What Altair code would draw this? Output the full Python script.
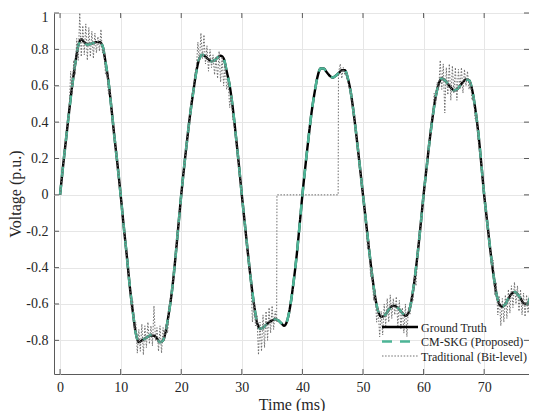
import altair as alt
import pandas as pd

# ---------------- data ----------------
series_names = ["Ground Truth", "CM-SKG (Proposed)", "Traditional (Bit-level)"]

# sampling instants for the smooth curves (0 ... 79 ms, every 0.5 ms)
t_grid = [i * 0.5 for i in range(159)]

ground_truth = [
    0.0, 0.16, 0.31, 0.46, 0.60, 0.72, 0.82, 0.855, 0.84, 0.83, 0.83, 0.835, 0.84, 0.84, 0.82, 0.73, 0.62, 0.47, 0.31, 0.16,
    0.0, -0.17, -0.33, -0.50, -0.64, -0.76, -0.81, -0.80, -0.79, -0.78, -0.775, -0.775, -0.79, -0.81, -0.80, -0.74, -0.64, -0.52, -0.36, -0.18,
    0.0, 0.16, 0.31, 0.45, 0.57, 0.68, 0.75, 0.77, 0.76, 0.745, 0.735, 0.74, 0.755, 0.765, 0.75, 0.68, 0.60, 0.48, 0.33, 0.17,
    0.0, -0.16, -0.32, -0.47, -0.60, -0.70, -0.735, -0.73, -0.715, -0.70, -0.69, -0.685, -0.69, -0.705, -0.72, -0.69, -0.61, -0.49, -0.35, -0.18,
    0.0, 0.16, 0.31, 0.45, 0.56, 0.65, 0.695, 0.695, 0.675, 0.655, 0.645, 0.655, 0.67, 0.685, 0.685, 0.64, 0.56, 0.44, 0.30, 0.15,
    0.0, -0.15, -0.30, -0.44, -0.56, -0.64, -0.67, -0.665, -0.645, -0.62, -0.61, -0.615, -0.63, -0.65, -0.665, -0.65, -0.58, -0.47, -0.33, -0.17,
    0.0, 0.15, 0.30, 0.43, 0.54, 0.61, 0.64, 0.63, 0.61, 0.59, 0.575, 0.58, 0.60, 0.62, 0.635, 0.63, 0.58, 0.48, 0.35, 0.18,
    0.0, -0.15, -0.30, -0.43, -0.54, -0.60, -0.615, -0.60, -0.57, -0.545, -0.535, -0.545, -0.57, -0.595, -0.60, -0.575, -0.48, -0.36, -0.21,
]

cm_skg = [
    0.0, 0.16, 0.31, 0.46, 0.60, 0.72, 0.82, 0.85, 0.84, 0.825, 0.83, 0.835, 0.84, 0.84, 0.82, 0.73, 0.62, 0.47, 0.31, 0.16,
    0.0, -0.17, -0.33, -0.50, -0.64, -0.76, -0.81, -0.80, -0.79, -0.78, -0.77, -0.775, -0.79, -0.81, -0.80, -0.74, -0.64, -0.52, -0.36, -0.18,
    0.0, 0.16, 0.31, 0.45, 0.57, 0.68, 0.75, 0.77, 0.76, 0.745, 0.735, 0.74, 0.755, 0.765, 0.75, 0.68, 0.60, 0.48, 0.33, 0.17,
    0.0, -0.16, -0.32, -0.47, -0.60, -0.70, -0.735, -0.73, -0.715, -0.70, -0.69, -0.685, -0.69, -0.705, -0.72, -0.69, -0.61, -0.49, -0.35, -0.18,
    0.0, 0.16, 0.31, 0.45, 0.56, 0.65, 0.695, 0.695, 0.675, 0.655, 0.645, 0.655, 0.67, 0.685, 0.685, 0.64, 0.56, 0.44, 0.30, 0.15,
    0.0, -0.15, -0.30, -0.44, -0.56, -0.64, -0.67, -0.665, -0.645, -0.62, -0.61, -0.615, -0.63, -0.65, -0.665, -0.65, -0.58, -0.47, -0.33, -0.17,
    0.0, 0.15, 0.30, 0.43, 0.54, 0.61, 0.64, 0.63, 0.61, 0.59, 0.575, 0.58, 0.60, 0.62, 0.635, 0.63, 0.58, 0.48, 0.35, 0.18,
    0.0, -0.15, -0.30, -0.43, -0.54, -0.60, -0.615, -0.60, -0.57, -0.545, -0.535, -0.545, -0.57, -0.595, -0.60, -0.575, -0.48, -0.36, -0.21,
]

traditional_t = [
    0.0, 0.5, 1.0, 1.25, 1.5, 1.75, 2.0, 2.25, 2.5, 2.75, 3.0, 3.25, 3.5, 3.75, 4.0, 4.25, 4.5, 4.75, 5.0, 5.25,
    5.5, 5.75, 6.0, 6.25, 6.5, 6.75, 7.0, 7.25, 7.5, 7.75, 8.0, 8.25, 8.5, 9.0, 9.5,
    10.0, 10.5, 11.0, 11.5, 11.75, 12.0, 12.25, 12.5, 12.75, 13.0, 13.25, 13.5, 13.75, 14.0, 14.25, 14.5, 14.75,
    15.0, 15.25, 15.5, 15.75, 16.0, 16.25, 16.5, 16.75, 17.0, 17.25, 17.5, 17.75, 18.0, 18.5, 19.0, 19.5,
    20.0, 20.5, 21.0, 21.5, 21.75, 22.0, 22.25, 22.5, 22.75, 23.0, 23.25, 23.5, 23.75, 24.0, 24.25, 24.5, 24.75,
    25.0, 25.25, 25.5, 25.75, 26.0, 26.25, 26.5, 26.75, 27.0, 27.25, 27.5, 27.75, 28.0, 28.25, 28.5, 29.0, 29.5,
    30.0, 30.5, 31.0, 31.5, 31.75, 32.0, 32.25, 32.5, 32.75, 33.0, 33.25, 33.5, 33.75, 34.0, 34.25, 34.5, 34.75,
    35.0, 35.25, 35.5, 35.75, 35.8, 45.9, 45.95,
    46.25, 46.5, 46.75, 47.0, 47.25, 47.5, 48.0, 48.5, 49.0, 49.5,
    50.0, 50.5, 50.75, 51.0, 51.25, 51.5, 51.75, 52.0, 52.25, 52.5, 52.75, 53.0, 53.25, 53.5, 53.75, 54.0, 54.25,
    54.5, 54.75, 55.0, 55.25, 55.5, 55.75, 56.0, 56.25, 56.5, 56.75, 57.0, 57.25, 57.5, 57.75, 58.0, 58.25, 58.5,
    58.75, 59.0, 59.5,
    60.0, 60.5, 61.0, 61.25, 61.5, 61.75, 62.0, 62.25, 62.5, 62.75, 63.0, 63.25, 63.5, 63.75, 64.0, 64.25, 64.5,
    64.75, 65.0, 65.25, 65.5, 65.75, 66.0, 66.25, 66.5, 66.75, 67.0, 67.25, 67.5, 67.75, 68.0, 68.25, 68.5, 68.75,
    69.0, 69.5,
    70.0, 70.5, 71.0, 71.25, 71.5, 71.75, 72.0, 72.25, 72.5, 72.75, 73.0, 73.25, 73.5, 73.75, 74.0, 74.25, 74.5,
    74.75, 75.0, 75.25, 75.5, 75.75, 76.0, 76.25, 76.5, 76.75, 77.0, 77.25, 77.5, 77.75, 78.0, 78.25, 78.5, 78.75, 79.0,
]

traditional_v = [
    0.0, 0.16, 0.31, 0.40, 0.46, 0.68, 0.55, 0.74, 0.66, 0.86, 0.74, 1.0, 0.76, 0.93, 0.77, 0.94, 0.74, 0.92, 0.76, 0.90,
    0.75, 0.89, 0.78, 0.87, 0.79, 0.91, 0.78, 0.80, 0.66, 0.68, 0.55, 0.58, 0.47, 0.31, 0.16,
    0.0, -0.17, -0.33, -0.50, -0.62, -0.58, -0.74, -0.70, -0.87, -0.74, -0.86, -0.71, -0.88, -0.72, -0.84, -0.70, -0.82,
    -0.72, -0.83, -0.61, -0.80, -0.73, -0.86, -0.72, -0.87, -0.73, -0.80, -0.71, -0.76, -0.62, -0.52, -0.36, -0.18,
    0.0, 0.16, 0.31, 0.45, 0.55, 0.57, 0.66, 0.70, 0.84, 0.73, 0.89, 0.75, 0.88, 0.72, 0.82, 0.68, 0.80,
    0.70, 0.77, 0.66, 0.76, 0.64, 0.79, 0.62, 0.76, 0.60, 0.72, 0.58, 0.62, 0.48, 0.55, 0.42, 0.33, 0.17,
    0.0, -0.16, -0.32, -0.47, -0.70, -0.58, -0.72, -0.66, -0.88, -0.70, -0.86, -0.66, -0.84, -0.64, -0.80, -0.62, -0.76,
    -0.61, -0.74, -0.64, -0.70, 0.0, 0.0, 0.67,
    0.72, 0.64, 0.70, 0.66, 0.67, 0.62, 0.56, 0.44, 0.30, 0.15,
    0.0, -0.15, -0.30, -0.25, -0.45, -0.40, -0.58, -0.52, -0.70, -0.62, -0.78, -0.64, -0.77, -0.60, -0.72, -0.57, -0.70,
    -0.55, -0.68, -0.57, -0.66, -0.56, -0.72, -0.58, -0.74, -0.62, -0.76, -0.60, -0.78, -0.62, -0.66, -0.55, -0.58, -0.44,
    -0.50, -0.33, -0.17,
    0.0, 0.15, 0.30, 0.40, 0.43, 0.56, 0.50, 0.62, 0.58, 0.74, 0.58, 0.72, 0.45, 0.70, 0.55, 0.72, 0.52,
    0.71, 0.56, 0.70, 0.52, 0.69, 0.58, 0.70, 0.56, 0.69, 0.60, 0.68, 0.58, 0.62, 0.52, 0.54, 0.42, 0.44,
    0.30, 0.18,
    0.0, -0.15, -0.30, -0.40, -0.36, -0.55, -0.48, -0.66, -0.56, -0.72, -0.57, -0.70, -0.55, -0.68, -0.52, -0.65, -0.50,
    -0.62, -0.48, -0.60, -0.50, -0.64, -0.52, -0.66, -0.54, -0.67, -0.55, -0.65, -0.54, -0.50, -0.44, -0.40, -0.32, -0.28, -0.21,
]

x_ticks = [0, 10, 20, 30, 40, 50, 60, 70]
y_ticks = [-0.8, -0.6, -0.4, -0.2, 0, 0.2, 0.4, 0.6, 0.8, 1]

# ---------------- tables ----------------
df_gt = pd.DataFrame({"t": t_grid, "v": ground_truth})
df_cm = pd.DataFrame({"t": t_grid, "v": cm_skg})
df_tr = pd.DataFrame({"t": traditional_t, "v": traditional_v})
df_xt = pd.DataFrame({"t": x_ticks})
df_yt = pd.DataFrame({"v": y_ticks})

# ---------------- styling ----------------
FONT = "Liberation Serif"
W, H = 475, 361
colors = ["#000000", "#4DB597", "#6e6e6e"]
dashes = [[1, 0], [10, 8], [1.5, 1.6]]
widths = [2.4, 2.6, 1.0]
FRAME = "#5a5a5a"

x_scale = alt.Scale(domain=[-1, 77.4], nice=False, zero=False)
y_scale = alt.Scale(domain=[-0.985, 1.0], nice=False, zero=False)

x_enc = alt.X(
    "t:Q", scale=x_scale,
    axis=alt.Axis(values=x_ticks, title="Time (ms)", format="d"),
)
y_enc = alt.Y(
    "v:Q", scale=y_scale,
    axis=alt.Axis(
        values=y_ticks, title="Voltage (p.u.)",
        labelExpr="datum.value < 0 ? '-' + format(-datum.value, '~g') : format(datum.value, '~g')",
        labelOffset={"condition": {"test": "datum.value >= 0.99", "value": 4}, "value": 0},
    ),
)


def curve(df, i, interp):
    return alt.Chart(df).mark_line(
        clip=True, interpolate=interp, color=colors[i],
        strokeDash=dashes[i], strokeWidth=widths[i],
    ).encode(x=x_enc, y=y_enc)


# inward tick marks (MATLAB style) on all four sides
xt_bottom = alt.Chart(df_xt).mark_rule(color=FRAME, strokeWidth=1).encode(
    x=x_enc, y=alt.value(H), y2=alt.value(H - 5))
xt_top = alt.Chart(df_xt).mark_rule(color=FRAME, strokeWidth=1).encode(
    x=x_enc, y=alt.value(0), y2=alt.value(5))
yt_left = alt.Chart(df_yt).mark_rule(color=FRAME, strokeWidth=1).encode(
    y=y_enc, x=alt.value(0), x2=alt.value(5))
yt_right = alt.Chart(df_yt).mark_rule(color=FRAME, strokeWidth=1).encode(
    y=y_enc, x=alt.value(W - 5), x2=alt.value(W))

# legend (inside, lower right, no box)
LX, LY, ROW = 328, 314, 14.5
legend_layers = []
for i, name in enumerate(series_names):
    df_l = pd.DataFrame({"label": [name]})
    legend_layers.append(
        alt.Chart(df_l).mark_rule(
            color=colors[i], strokeDash=dashes[i], strokeWidth=widths[i]
        ).encode(x=alt.value(LX), x2=alt.value(LX + 36), y=alt.value(LY + ROW * i))
    )
    legend_layers.append(
        alt.Chart(df_l).mark_text(
            align="left", baseline="middle", font=FONT, fontSize=12, color="#222222",
        ).encode(text="label:N", x=alt.value(LX + 39), y=alt.value(LY + ROW * i + 0.5))
    )

chart = alt.layer(
    curve(df_gt, 0, "monotone"),
    curve(df_cm, 1, "monotone"),
    curve(df_tr, 2, "linear"),
    xt_bottom, xt_top, yt_left, yt_right,
    *legend_layers,
).properties(
    width=W, height=H,
    autosize="none",
    padding={"left": 46, "top": 5, "right": 0, "bottom": 37},
).configure_view(
    stroke=FRAME, strokeWidth=1,
).configure_axis(
    labelFont=FONT, titleFont=FONT, labelFontSize=14, titleFontSize=16,
    labelColor="#262626", titleColor="#262626", titleFontWeight="normal",
    grid=True, gridColor="#e6e6e6", gridWidth=1,
    domain=False, ticks=False,
).configure_axisX(
    labelPadding=6, titlePadding=2,
).configure_axisY(
    labelPadding=6, titlePadding=2,
)

chart.save("out.html", embed_options={"renderer": "svg", "actions": False})
